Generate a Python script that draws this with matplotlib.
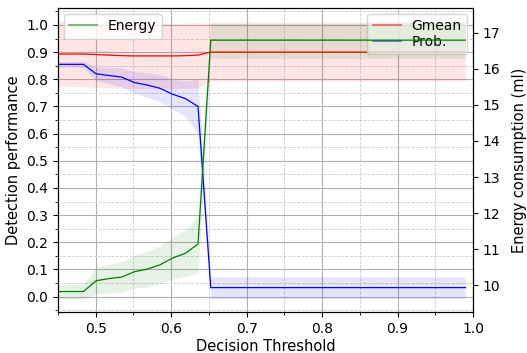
import matplotlib
matplotlib.use("Agg")
import matplotlib.pyplot as plt
import numpy as np
from matplotlib.lines import Line2D
from matplotlib.ticker import MultipleLocator

thresholds = [0.45, 0.466875, 0.48375, 0.500625, 0.5175, 0.534375, 0.55125, 0.568125,
              0.585, 0.601875, 0.61875, 0.635625, 0.6525, 0.669375, 0.68625, 0.703125,
              0.72, 0.736875, 0.75375, 0.770625, 0.7875, 0.804375, 0.82125, 0.838125,
              0.855, 0.871875, 0.88875, 0.905625, 0.9225, 0.939375, 0.95625, 0.973125, 0.99]

gmean = [0.893, 0.893, 0.893, 0.891, 0.889, 0.887, 0.886, 0.886, 0.886, 0.886, 0.887, 0.889] + [0.9] * 21
gmean_std = [0.12] * 12 + [0.105] * 21

prob = [0.855, 0.855, 0.855, 0.82, 0.814, 0.808, 0.788, 0.779, 0.767, 0.745, 0.729, 0.70] + [0.033] * 21
prob_std = [0.01, 0.01, 0.012, 0.025, 0.03, 0.035, 0.04, 0.045, 0.05, 0.055, 0.065, 0.1] + [0.04] * 21

energy = [9.82, 9.82, 9.82, 10.12, 10.18, 10.22, 10.37, 10.44, 10.56, 10.75, 10.88, 11.14] + [16.8] * 21
energy_std = [0.2, 0.2, 0.2, 0.37, 0.4, 0.42, 0.45, 0.5, 0.52, 0.58, 0.65, 0.8] + [0.5] * 21

x = np.array(thresholds)
g = np.array(gmean); gs = np.array(gmean_std)
p = np.array(prob); ps = np.array(prob_std)
e = np.array(energy); es = np.array(energy_std)

fig = plt.figure(figsize=(5.27, 3.53), dpi=100)
ax1 = fig.add_axes([0.110, 0.116, 0.7875, 0.861])

ax1.plot(x, g, color='r', lw=0.9, label='Gmean')
ax1.fill_between(x, g - gs, g + gs, color='r', alpha=0.1, lw=0)
ax1.plot(x, p, color='b', lw=0.9, label='Prob.')
ax1.fill_between(x, p - ps, p + ps, color='b', alpha=0.1, lw=0)

ax1.set_xlim(0.45, 1.0)
ax1.set_ylim(-0.057, 1.062)
ax1.xaxis.set_major_locator(MultipleLocator(0.1))
ax1.xaxis.set_minor_locator(MultipleLocator(0.05))
ax1.yaxis.set_major_locator(MultipleLocator(0.1))
ax1.yaxis.set_minor_locator(MultipleLocator(0.05))
ax1.grid(which='major', color='#b0b0b0', lw=0.8, ls='-')
ax1.grid(which='minor', color='#cccccc', lw=0.6, ls='--')
ax1.set_axisbelow(True)
ax1.set_xlabel('Decision Threshold', fontsize=10.5, labelpad=2)
ax1.set_ylabel('Detection performance', fontsize=10.5, labelpad=4)
ax1.tick_params(labelsize=10)

h1 = [Line2D([], [], color='r', alpha=0.5, lw=1.5), Line2D([], [], color='b', alpha=0.5, lw=1.5)]
ax1.legend(h1, ['Gmean', 'Prob.'], loc='upper right', fontsize=10,
           labelspacing=0.1, borderaxespad=0.4, handlelength=2.0)

ax2 = ax1.twinx()
ax2.plot(x, e, color='g', lw=0.9, label='Energy')
ax2.fill_between(x, e - es, e + es, color='g', alpha=0.1, lw=0)
ax2.set_ylim(9.25, 17.69)
ax2.yaxis.set_major_locator(MultipleLocator(1))
ax2.set_ylabel('Energy consumption (ml)', fontsize=10.5, labelpad=8)
ax2.tick_params(labelsize=10)
h2 = [Line2D([], [], color='g', alpha=0.5, lw=1.5)]
ax2.legend(h2, ['Energy'], loc='upper left', fontsize=10, borderaxespad=0.4, handlelength=2.0)

fig.savefig('out.png', dpi=100)
